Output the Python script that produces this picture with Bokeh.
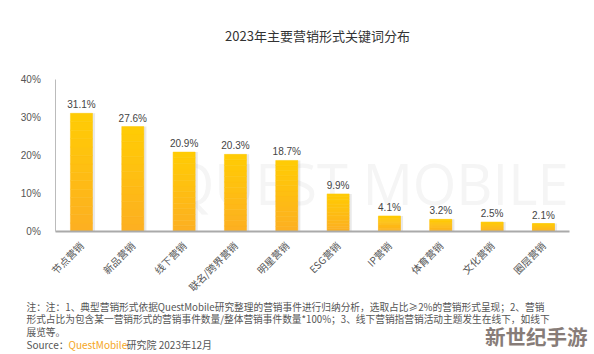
from bokeh.plotting import figure
from bokeh.models import ColumnDataSource, Label, FixedTicker, LinearAxis, Range1d
from bokeh.embed import file_html
from bokeh.resources import INLINE
import math

categories = ["节点营销", "新品营销", "线下营销", "联名/跨界营销", "明星营销",
              "ESG营销", "IP营销", "体育营销", "文化营销", "圈层营销"]
values = [31.1, 27.6, 20.9, 20.3, 18.7, 9.9, 4.1, 3.2, 2.5, 2.1]
y_ticks = [0, 10, 20, 30, 40]
title_text = "2023年主要营销形式关键词分布"
note_lines = [
    "注：注：1、典型营销形式依据QuestMobile研究整理的营销事件进行归纳分析，选取占比≥2%的营销形式呈现；2、营销",
    "形式占比为包含某一营销形式的营销事件数量/整体营销事件数量*100%；3、线下营销指营销活动主题发生在线下，如线下",
    "展览等。",
]
source_parts = ["Source：", "QuestMobile", " 研究院 2023年12月"]

FONT = "Noto Sans CJK SC"
W, H = 594, 354

# pixel layout of the plotting area inside the canvas
PL, PR, PT, PB = 55.3, 568.6, 79, 231
n = len(categories)
xs_px = (PR - PL) / n
ys_px = (PB - PT) / 40.0
x0 = -PL / xs_px
x1 = x0 + W / xs_px
y0 = -(H - PB) / ys_px
y1 = 40 + PT / ys_px

p = figure(width=W, height=H, x_range=Range1d(x0, x1), y_range=Range1d(y0, y1),
           x_axis_type=None, y_axis_type=None, output_backend="svg",
           toolbar_location=None, min_border=0)
p.outline_line_color = None
p.xgrid.grid_line_color = None
p.ygrid.grid_line_color = None
p.background_fill_color = "white"
p.border_fill_color = "white"

# faint brand watermark (behind the bars)
p.add_layout(Label(x=568, y=H - 182, x_units="screen", y_units="screen",
                   text="QUEST MOBILE", text_font="Open Sans", text_font_size="56px",
                   text_align="right", text_baseline="alphabetic", text_color="#f5f5f5",
                   level="underlay"))

xc = [i + 0.5 for i in range(n)]

# shadows
p.vbar(x=[x + 0.05 for x in xc], top=values, width=0.43,
       fill_color="#999999", fill_alpha=0.22, line_color=None)

# gradient bars
N = 14


def lerp(c1, c2, t):
    a = [int(c1[i:i + 2], 16) for i in (1, 3, 5)]
    b = [int(c2[i:i + 2], 16) for i in (1, 3, 5)]
    return "#%02x%02x%02x" % tuple(round(a[k] + (b[k] - a[k]) * t) for k in range(3))


bx, bb, bt, bc = [], [], [], []
for x, v in zip(xc, values):
    for k in range(N):
        bx.append(x)
        bb.append(v * k / N)
        bt.append(v * (k + 1) / N)
        bc.append(lerp("#fdb021", "#ffcb05", k / (N - 1)))
p.vbar(x="x", bottom="b", top="t", width=0.43, fill_color="c", line_color="c",
       line_width=0.5, source=ColumnDataSource(dict(x=bx, b=bb, t=bt, c=bc)))

# value labels
lab = ColumnDataSource(dict(x=xc, y=values, t=["%.1f%%" % v for v in values]))
p.text(x="x", y="y", text="t", source=lab, text_align="center", text_baseline="bottom",
       y_offset=-3, text_font_size="10px", text_color="#444444",
       text_font={"value": "Liberation Sans"})

# axes
yaxis = LinearAxis(fixed_location=0, bounds=(0, 40), ticker=FixedTicker(ticks=y_ticks))
yaxis.major_label_overrides = {t: f"{t}%" for t in y_ticks}
yaxis.major_tick_line_color = None
yaxis.minor_tick_line_color = None
yaxis.axis_line_color = "#bbbbbb"
yaxis.major_label_text_font_size = "10px"
yaxis.major_label_text_color = "#555555"
yaxis.major_label_text_font = "Liberation Sans"
yaxis.major_label_standoff = 9
p.add_layout(yaxis, "left")

xaxis = LinearAxis(fixed_location=0, bounds=(0, n), ticker=FixedTicker(ticks=xc))
xaxis.major_label_overrides = {x: c for x, c in zip(xc, categories)}
xaxis.major_tick_line_color = None
xaxis.minor_tick_line_color = None
xaxis.axis_line_color = "#aaaaaa"
xaxis.axis_line_width = 2
xaxis.major_label_orientation = math.pi / 4
xaxis.major_label_text_font_size = "10px"
xaxis.major_label_text_color = "#555555"
xaxis.major_label_text_font = FONT
xaxis.major_label_standoff = 6
p.add_layout(xaxis, "below")

# title
p.add_layout(Label(x=317, y=H - 35, x_units="screen", y_units="screen",
                   text=title_text, text_align="center", text_baseline="middle",
                   text_font=FONT, text_font_size="13px", text_color="#333333"))

# notes
for i, line in enumerate(note_lines):
    p.add_layout(Label(x=26, y=H - (306 + i * 12.5), x_units="screen", y_units="screen",
                       text=line, text_baseline="middle", text_font=FONT,
                       text_font_size="9.7px", text_color="#555555"))

sy = H - 344
p.add_layout(Label(x=26, y=sy, x_units="screen", y_units="screen", text=source_parts[0],
                   text_baseline="middle", text_font=FONT, text_font_size="10px",
                   text_color="#555555"))
p.add_layout(Label(x=68, y=sy, x_units="screen", y_units="screen", text=source_parts[1],
                   text_baseline="middle", text_font=FONT, text_font_size="10px",
                   text_color="#f5a623"))
p.add_layout(Label(x=126, y=sy, x_units="screen", y_units="screen", text=source_parts[2],
                   text_baseline="middle", text_font=FONT, text_font_size="10px",
                   text_color="#555555"))

# site watermark
p.add_layout(Label(x=587, y=H - 335, x_units="screen", y_units="screen", text="新世纪手游",
                   text_align="right", text_baseline="middle", text_font=FONT,
                   text_font_size="20.5px", text_font_style="bold", text_color="#877c78"))

open("out.html", "w").write(file_html(p, INLINE))
